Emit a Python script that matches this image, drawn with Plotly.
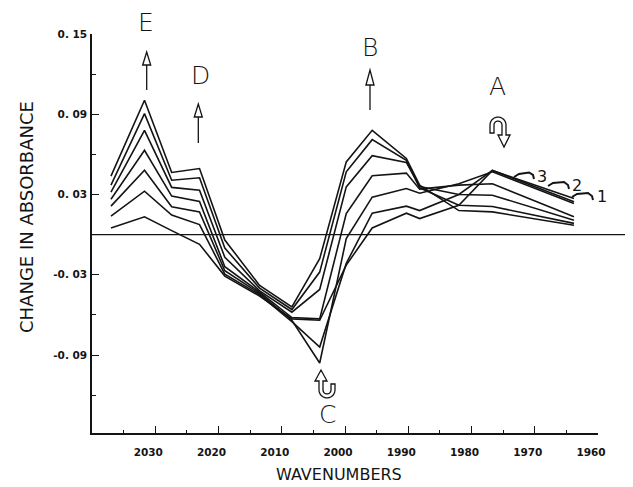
import numpy as np
import plotly.graph_objects as go

# ---------------- data ----------------
wavenumbers = [2037, 2031.7, 2027.4, 2023, 2019, 2013.5, 2008.4, 2004,
               1999.8, 1995.7, 1990.3, 1988.2, 1982, 1976.7, 1963.8]

spectrum_1 = [0.0049, 0.0133, 0.0030, -0.0072, -0.0310, -0.0460, -0.0630, -0.0640,
              -0.0228, 0.0050, 0.0160, 0.0120, 0.0220, 0.0480, 0.0270]
spectrum_2 = [0.0138, 0.0325, 0.0146, 0.0075, -0.0295, -0.0450, -0.0650, -0.0840,
              -0.0215, 0.0160, 0.0213, 0.0180, 0.0300, 0.0480, 0.0245]
spectrum_3 = [0.0213, 0.0482, 0.0208, 0.0170, -0.0270, -0.0440, -0.0640, -0.0960,
              -0.0030, 0.0280, 0.0345, 0.0310, 0.0380, 0.0470, 0.0233]
spectrum_4 = [0.0265, 0.0631, 0.0288, 0.0248, -0.0240, -0.0430, -0.0620, -0.0630,
              0.0158, 0.0440, 0.0460, 0.0340, 0.0370, 0.0380, 0.0133]
spectrum_5 = [0.0317, 0.0780, 0.0353, 0.0332, -0.0170, -0.0420, -0.0580, -0.0410,
              0.0357, 0.0590, 0.0540, 0.0360, 0.0300, 0.0295, 0.0108]
spectrum_6 = [0.0370, 0.0905, 0.0407, 0.0425, -0.0100, -0.0400, -0.0560, -0.0280,
              0.0470, 0.0710, 0.0555, 0.0350, 0.0220, 0.0210, 0.0084]
spectrum_7 = [0.0437, 0.1005, 0.0465, 0.0494, -0.0040, -0.0380, -0.0540, -0.0180,
              0.0544, 0.0780, 0.0570, 0.0370, 0.0180, 0.0170, 0.0070]

spectra = [spectrum_1, spectrum_2, spectrum_3, spectrum_4,
           spectrum_5, spectrum_6, spectrum_7]

x_tick_vals = [2030, 2020, 2010, 2000, 1990, 1980, 1970, 1960]
x_tick_text = ["2030", "2020", "2010", "2000", "1990", "1980", "1970", "1960"]
x_minor_vals = [2035, 2025, 2015, 2005, 1995, 1985, 1975, 1965]
y_tick_vals = [0.15, 0.09, 0.03, -0.03, -0.09]
y_tick_text = ["0. 15", "0. 09", "0. 03", "-0. 03", "-0. 09"]
y_minor_vals = [0.12, 0.06, 0.0, -0.06, -0.12]

# ---------------- layout geometry ----------------
# The page body has an 8px margin, so the figure is drawn 8px smaller and
# every page position below is shifted by OFF.
OFF = 8
W, H = 633 - OFF, 487 - OFF
L, R, T, B = 92 - OFF, 598 - OFF, 34 - OFF, 433 - OFF
INK = "#141414"
THIN = "DejaVu Sans"


def P(px, py):
    px -= OFF
    py -= OFF
    return ((px - L) / (R - L), (B - py) / (B - T))


def path(pts, close=False):
    s = ""
    for i, (px, py) in enumerate(pts):
        x, y = P(px, py)
        s += ("M" if i == 0 else " L") + f"{x:.5f},{y:.5f}"
    if close:
        s += " Z"
    return s


def arc(cx, cy, r, t0, t1, n=14):
    ts = np.linspace(t0, t1, n)
    return [(cx + r * np.cos(t), cy + r * np.sin(t)) for t in ts]


fig = go.Figure()
for s in spectra:
    fig.add_trace(go.Scatter(x=wavenumbers, y=s, mode="lines",
                             line=dict(color=INK, width=1.6),
                             showlegend=False, hoverinfo="skip"))

shapes = []
line_style = dict(color=INK, width=1.3)

# zero reference line (extends past the right end of the axis)
shapes.append(dict(type="line", xref="paper", yref="y", x0=0, x1=P(627, 0)[0],
                   y0=0, y1=0, line=dict(color=INK, width=1.4)))


def straight_arrow(x, y_tail, y_base, y_tip, hw=4):
    shapes.append(dict(type="path", xref="paper", yref="paper",
                       path=path([(x, y_tail), (x, y_base)]), line=line_style))
    shapes.append(dict(type="path", xref="paper", yref="paper",
                       path=path([(x - hw, y_base), (x, y_tip), (x + hw, y_base)], close=True),
                       line=line_style))


straight_arrow(146.7, 90, 65, 52)    # E
straight_arrow(198.3, 143, 117, 104)  # D
straight_arrow(370, 110, 85, 70)      # B

# C : U-turn arrow, head up on the left
c_pts = [(319, 381), (319, 390)] + arc(327, 390, 8, np.pi, 0) + [(335, 384), (331, 384), (331, 390)] \
    + arc(327, 390, 4, 0, np.pi) + [(323, 381), (327, 381), (321, 370), (315, 381)]
shapes.append(dict(type="path", xref="paper", yref="paper", path=path(c_pts, True), line=line_style))

# A : inverted U-turn arrow, head down on the right
a_pts = [(490, 133), (490, 125)] + arc(498, 125, 8, np.pi, 2 * np.pi) + [(506, 135), (510, 135), (504, 147),
                                                                        (498, 135), (502, 135), (502, 125)] \
    + arc(498, 125, 4, 2 * np.pi, np.pi) + [(494, 133)]
shapes.append(dict(type="path", xref="paper", yref="paper", path=path(a_pts, True), line=line_style))

# little hooked pointers for the labels 3, 2, 1
for pts in ([(514, 177), (519, 174), (529, 172.5), (533, 175), (534, 179)],
            [(548, 186), (553, 183), (564, 182), (568, 185), (569, 189)],
            [(572, 197), (577, 194), (588, 193), (592, 196), (593, 200)]):
    shapes.append(dict(type="path", xref="paper", yref="paper", path=path(pts), line=dict(color=INK, width=2)))

annotations = []


def label(text, px, py, size, angle=0, weight=200):
    x, y = P(px, py)
    annotations.append(dict(text=text, x=x, y=y, xref="paper", yref="paper",
                            xanchor="center", yanchor="middle", showarrow=False,
                            textangle=angle,
                            font=dict(family=THIN, size=size, color=INK, weight=weight)))


label("E", 146, 22, 25)
label("D", 200, 75, 25)
label("B", 370, 47, 25)
label("A", 497, 86, 25)
label("C", 327, 414, 25)
label("3", 542, 176, 16, weight=400)
label("2", 577, 185, 16, weight=400)
label("1", 602, 196, 16, weight=400)
label("CHANGE IN ABSORBANCE", 26, 217, 18, -90, weight=400)
label("WAVENUMBERS", 339, 475, 16, weight=400)

tick_font = dict(family="DejaVu Sans", size=10.5, color=INK, weight="bold")

fig.update_layout(
    width=W, height=H, autosize=False,
    margin=dict(l=L, r=W - R, t=T, b=H - B, pad=0),
    paper_bgcolor="white", plot_bgcolor="white",
    shapes=shapes, annotations=annotations,
    xaxis=dict(range=[2040, 1960], showgrid=False, zeroline=False,
               showline=True, linecolor=INK, linewidth=1.5,
               ticks="inside", ticklen=7, tickwidth=1.3, tickcolor=INK,
               tickmode="array", tickvals=x_tick_vals, ticktext=x_tick_text,
               tickfont=tick_font, ticklabelstandoff=9, ticklabelshift=7,
               minor=dict(tickmode="array", tickvals=x_minor_vals, ticks="inside",
                          ticklen=3.5, tickwidth=1.2, tickcolor=INK, showgrid=False),
               automargin=False, fixedrange=True),
    yaxis=dict(range=[-0.1483, 0.15], showgrid=False, zeroline=False,
               showline=True, linecolor=INK, linewidth=1.5,
               ticks="inside", ticklen=7, tickwidth=1.3, tickcolor=INK,
               tickmode="array", tickvals=y_tick_vals, ticktext=y_tick_text,
               tickfont=tick_font, ticklabelstandoff=1,
               minor=dict(tickmode="array", tickvals=y_minor_vals, ticks="inside",
                          ticklen=4, tickwidth=1.2, tickcolor=INK, showgrid=False),
               automargin=False, fixedrange=True),
)

fig.write_html("out.html")
